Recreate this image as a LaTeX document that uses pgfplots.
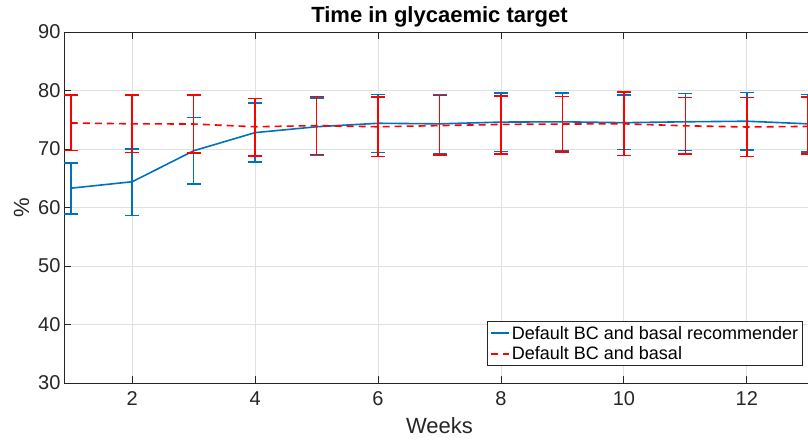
\documentclass[border=0pt]{standalone}
\usepackage{fontspec}
\setmainfont{Liberation Sans}
\usepackage{pgfplots}
\usepackage{pgfplotstable}
\pgfplotsset{compat=1.18}
\definecolor{mblue}{rgb}{0,0.447,0.741}
\definecolor{axgray}{rgb}{0.15,0.15,0.15}

% week, mean, upper error, lower error
\pgfplotstableread{
x y ep em
1 63.30 4.30 4.45
2 64.40 5.65 5.80
3 69.70 5.65 5.70
4 72.80 5.05 5.00
5 73.80 4.90 4.90
6 74.40 4.90 5.00
7 74.30 5.00 5.20
8 74.60 5.00 5.00
9 74.65 4.90 4.95
10 74.50 4.70 4.60
11 74.65 4.85 4.90
12 74.75 4.90 4.95
13 74.30 5.00 4.80
}\recommender

\pgfplotstableread{
x y ep em
1 74.45 4.80 4.70
2 74.30 4.90 4.90
3 74.27 5.00 5.00
4 73.80 4.85 4.95
5 74.00 5.00 4.95
6 73.80 5.10 5.10
7 74.00 5.17 5.03
8 74.20 4.90 5.10
9 74.27 4.73 4.77
10 74.30 5.40 5.40
11 73.97 4.83 4.87
12 73.76 5.04 5.06
13 73.86 5.04 4.76
}\basal

\begin{document}
\begin{tikzpicture}
\path[use as bounding box] (-64pt,-60pt) rectangle (744pt,383pt);
\begin{axis}[
    at={(0,0)}, anchor=south west,
    width=751pt, height=351pt, scale only axis,
    xmin=0.89, xmax=13.11,
    ymin=30, ymax=90,
    xtick={2,4,...,12},
    ytick={30,40,...,90},
    xtick pos=both, ytick pos=both,
    tick align=inside,
    major tick length=7pt,
    every tick/.style={axgray, line width=0.8pt},
    axis line style={axgray, line width=0.8pt},
    grid=major,
    major grid style={black!12, line width=0.8pt},
    /pgf/number format/assume math mode=true,
    ticklabel style={font=\fontsize{20}{24}\selectfont, text=axgray},
    xticklabel style={yshift=-5pt},
    title={Time in glycaemic target},
    title style={font=\fontsize{22}{26}\selectfont\bfseries, yshift=-5pt},
    xlabel={Weeks},
    ylabel={\%},
    label style={font=\fontsize{22}{26}\selectfont, text=axgray},
    xlabel style={yshift=-7pt, inner sep=1pt},
    ylabel style={yshift=2pt},
    legend style={
        at={(rel axis cs:0.984,0.0484)}, anchor=south east,
        draw=axgray, line width=0.8pt,
        font=\fontsize{18}{21}\selectfont,
        inner sep=2.5pt, row sep=2pt,
    },
    legend cell align=left,
    legend image code/.code={\draw[#1, line width=1.6pt] (0pt,0pt) -- (18pt,0pt);},
]
\addplot[
    mblue, line width=1.6pt,
    error bars/.cd,
    y dir=both, y explicit,
    error mark=|,
    error mark options={mark size=7pt, line width=1.6pt, mblue},
    error bar style={line width=1.6pt, mblue},
] table[x=x, y=y, y error plus=ep, y error minus=em] {\recommender};
\addlegendentry{Default BC and basal recommender}

\addplot[
    red, line width=1.6pt, dash pattern=on 7pt off 5pt,
    error bars/.cd,
    y dir=both, y explicit,
    error mark=|,
    error mark options={mark size=7pt, line width=1.6pt, red, solid},
    error bar style={line width=1.6pt, red, solid},
] table[x=x, y=y, y error plus=ep, y error minus=em] {\basal};
\addlegendentry{Default BC and basal}
\end{axis}
\end{tikzpicture}
\end{document}
